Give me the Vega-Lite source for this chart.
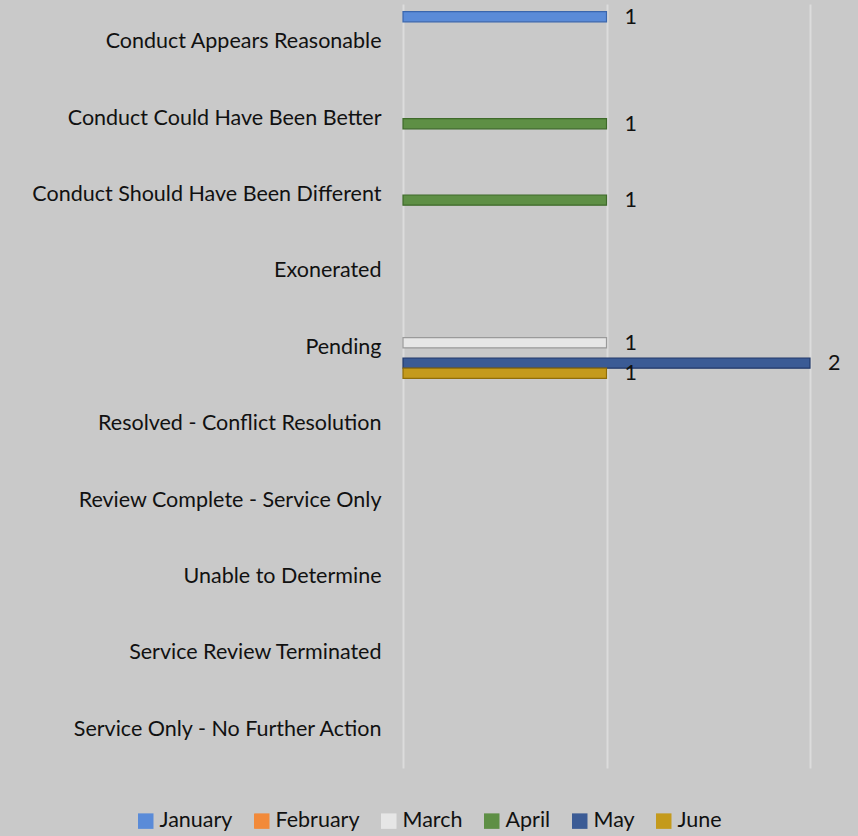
{
  "$schema": "https://vega.github.io/schema/vega-lite/v6.json",
  "autosize": {"type": "none"},
  "width": 407,
  "height": 764,
  "padding": {"left": 403, "top": 4, "right": 48, "bottom": 68},
  "background": "#c9c9c9",
  "config": {
    "view": {"stroke": null, "fill": "#c9c9c9"},
    "font": "Lato",
    "axis": {"labelFont": "Lato", "labelFontSize": 21.5, "labelColor": "#111111"}
  },
  "data": {
    "values": [
      {"outcome": "Conduct Appears Reasonable", "month": "January", "count": 1},
      {"outcome": "Conduct Could Have Been Better", "month": "April", "count": 1},
      {"outcome": "Conduct Should Have Been Different", "month": "April", "count": 1},
      {"outcome": "Pending", "month": "March", "count": 1},
      {"outcome": "Pending", "month": "May", "count": 2},
      {"outcome": "Pending", "month": "June", "count": 1}
    ]
  },
  "encoding": {
    "y": {
      "field": "outcome",
      "type": "nominal",
      "sort": null,
      "title": null,
      "scale": {
        "domain": ["Conduct Appears Reasonable", "Conduct Could Have Been Better", "Conduct Should Have Been Different", "Exonerated", "Pending", "Resolved - Conflict Resolution", "Review Complete - Service Only", "Unable to Determine", "Service Review Terminated", "Service Only - No Further Action"],
        "paddingInner": 0,
        "paddingOuter": 0
      },
      "axis": {"domain": false, "ticks": false, "grid": false, "labelPadding": 22, "labelLimit": 420}
    },
    "yOffset": {
      "field": "month",
      "type": "nominal",
      "scale": {"domain": ["January", "February", "March", "April", "May", "June"], "paddingInner": 0.0, "paddingOuter": 0.75}
    },
    "x": {
      "field": "count",
      "type": "quantitative",
      "title": null,
      "scale": {"domain": [0, 2], "nice": false},
      "axis": {"values": [0, 1, 2], "labels": false, "domain": false, "ticks": false, "grid": true, "gridColor": "#dcdcdc", "gridWidth": 2}
    }
  },
  "layer": [
    {
      "mark": {"type": "bar", "strokeWidth": 1.2},
      "encoding": {
        "color": {
          "field": "month",
          "type": "nominal",
          "scale": {
            "domain": ["January", "February", "March", "April", "May", "June"],
            "range": ["#5a8bd8", "#f28a3a", "#e6e6e6", "#5e8f45", "#3b5b95", "#c49a1c"]
          },
          "legend": {
            "title": null,
            "orient": "none",
            "legendX": -268,
            "legendY": 806,
            "direction": "horizontal",
            "symbolType": "square",
            "symbolSize": 240,
            "symbolStrokeWidth": 0,
            "labelFontSize": 21.5,
            "labelFont": "Lato",
            "labelColor": "#111111",
            "labelOffset": 3,
            "columnPadding": 18
          }
        },
        "stroke": {
          "field": "month",
          "type": "nominal",
          "scale": {
            "domain": ["January", "February", "March", "April", "May", "June"],
            "range": ["#3a66ad", "#c0661e", "#9a9a9a", "#3e6a2a", "#22396a", "#8f6d08"]
          },
          "legend": null
        }
      }
    },
    {
      "mark": {"type": "text", "align": "left", "baseline": "middle", "dx": 18, "dy": 1, "fontSize": 21.5, "font": "Lato", "color": "#111111"},
      "encoding": {
        "text": {"field": "count", "type": "quantitative"}
      }
    }
  ]
}
